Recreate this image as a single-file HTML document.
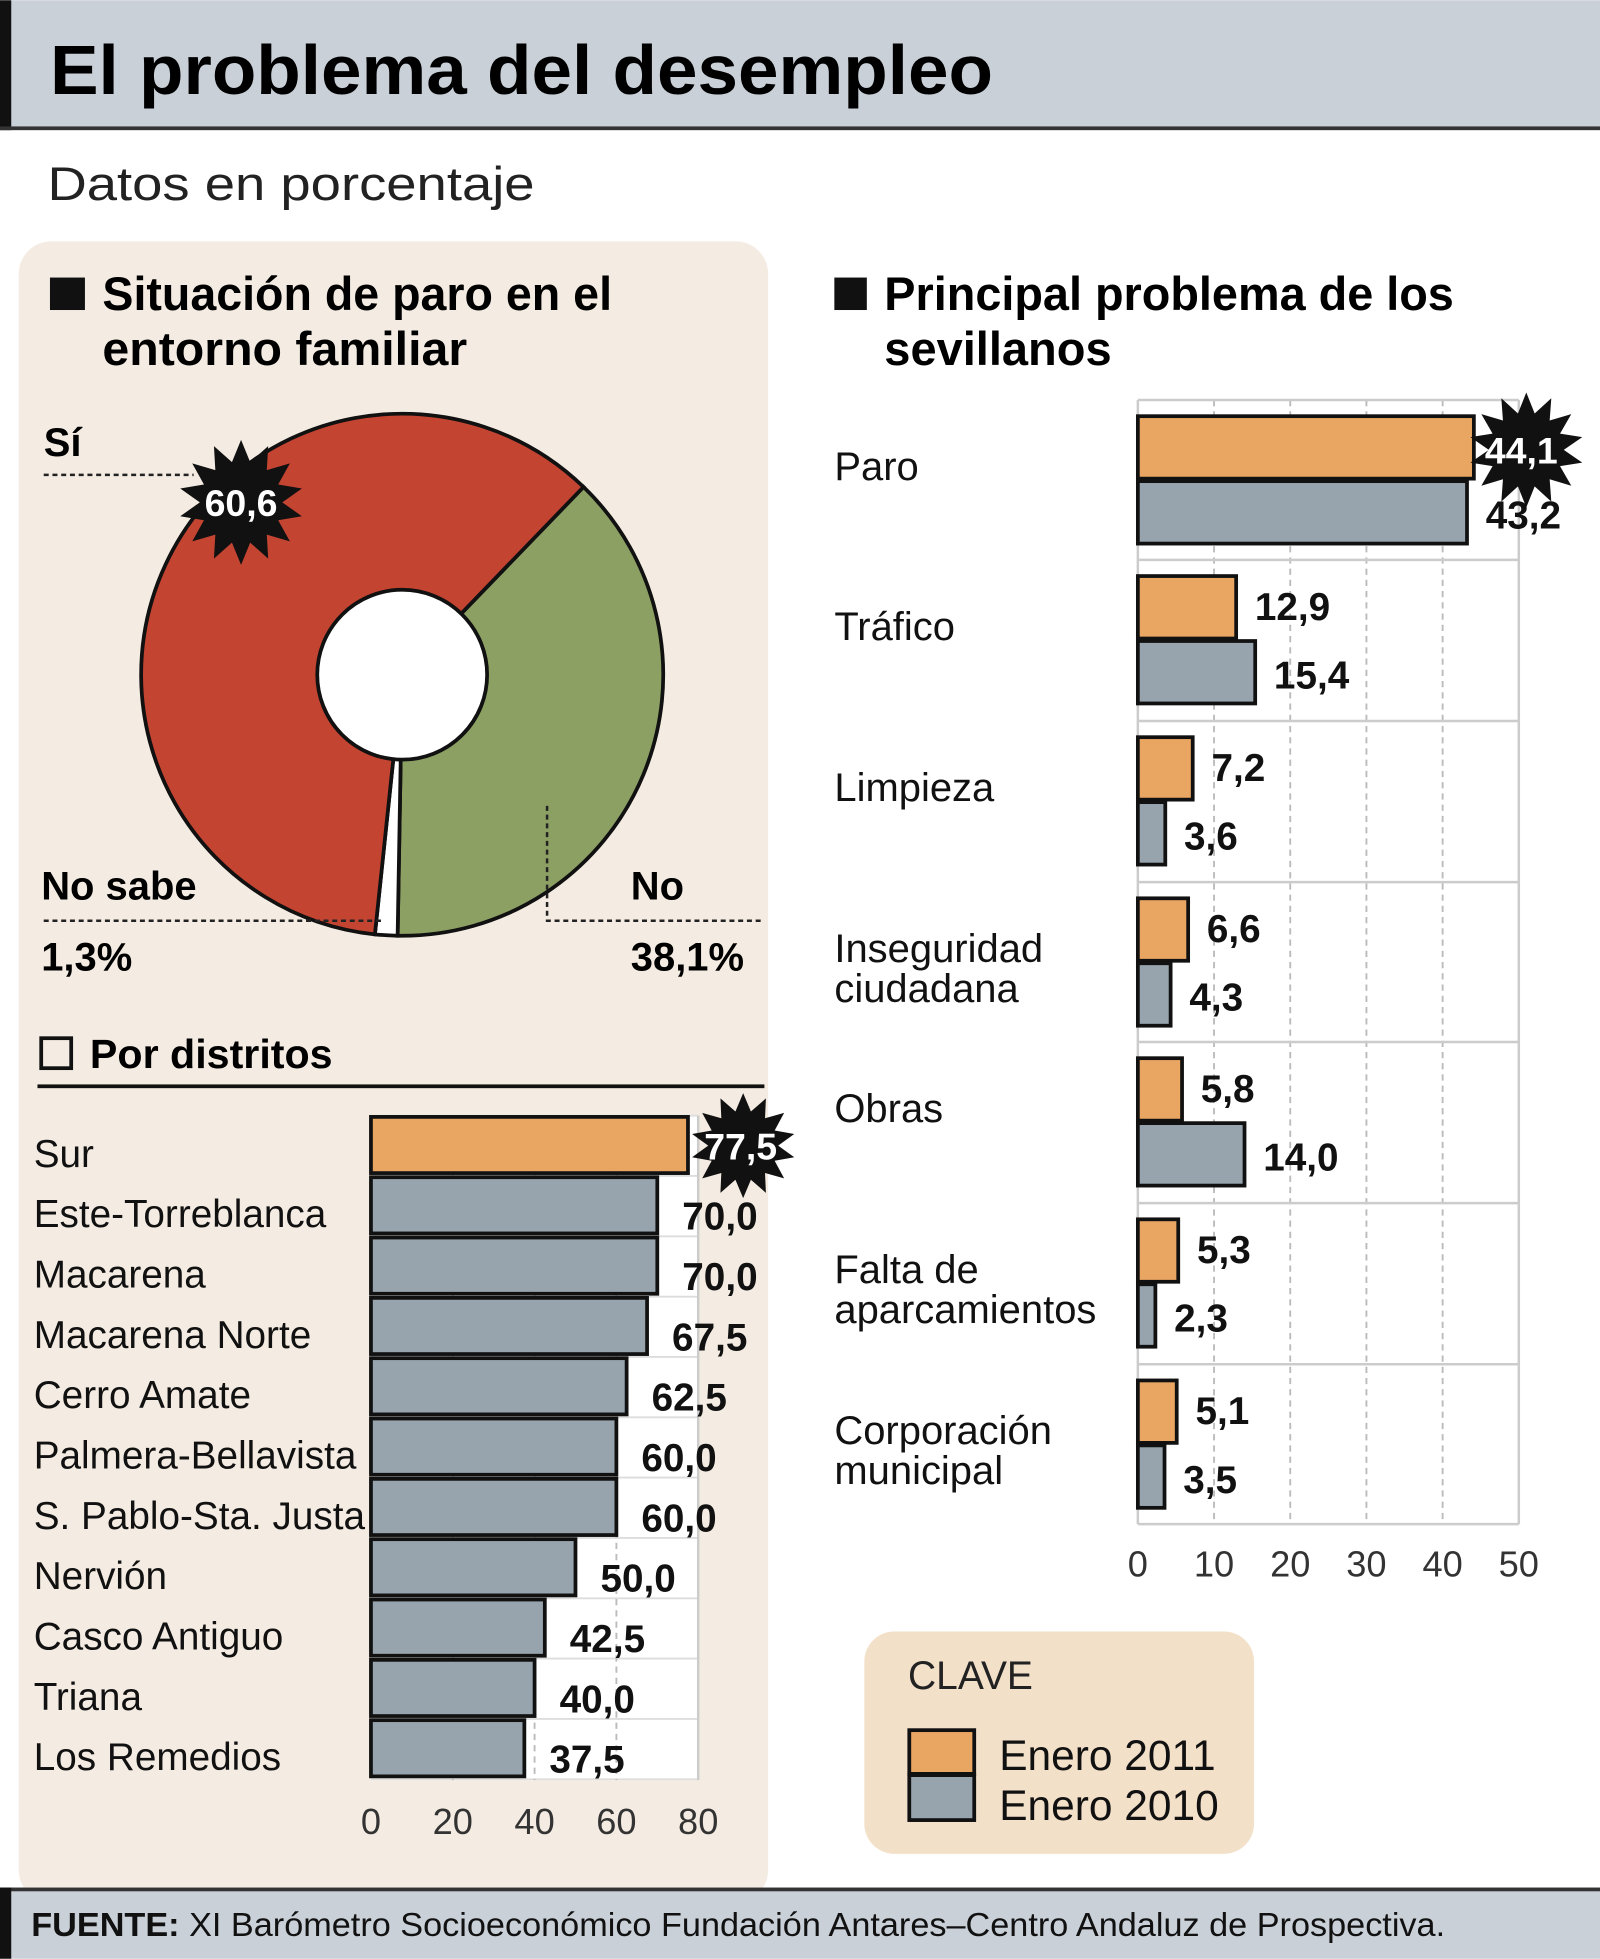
<!DOCTYPE html>
<html><head><meta charset="utf-8"><style>
html,body{margin:0;padding:0;background:#fff}
svg{display:block}
text{font-family:"Liberation Sans Narrow","Liberation Sans",sans-serif}
.b{font-weight:bold}
</style></head><body>
<svg width="1600" height="1959" viewBox="0 0 1281 1568" xmlns="http://www.w3.org/2000/svg">
<rect width="1281" height="1568" fill="#fff"/>
<rect x="0" y="0" width="1281" height="102" fill="#c9d0d8"/>
<rect x="0" y="0" width="9" height="104" fill="#111"/>
<rect x="0" y="101" width="1281" height="3" fill="#333"/>
<text x="40" y="75" font-size="56" class="b" textLength="755" lengthAdjust="spacingAndGlyphs">El problema del desempleo</text>
<text x="38" y="160" font-size="38" fill="#222" textLength="390" lengthAdjust="spacingAndGlyphs" style="font-family:'Liberation Sans',sans-serif">Datos en porcentaje</text>

<rect x="15" y="193" width="600" height="1330" rx="26" fill="#f4ece2"/>
<rect x="40" y="222" width="28" height="26" fill="#111"/>
<text x="82" y="248" font-size="38" class="b" textLength="408" lengthAdjust="spacingAndGlyphs">Situación de paro en el</text>
<text x="82" y="292" font-size="38" class="b" textLength="292" lengthAdjust="spacingAndGlyphs">entorno familiar</text>

<g id="donut" stroke="#111" stroke-width="3"></g>
<circle cx="322" cy="540" r="68" fill="#fff" stroke="#111" stroke-width="3"/>
<line x1="35" y1="380" x2="155" y2="380" stroke="#222" stroke-width="2" stroke-dasharray="4,3"/>
<text x="35" y="365" font-size="32" class="b">Sí</text>
<polygon id="s1" fill="#111"/>
<text x="193" y="413" font-size="30" class="b" fill="#fff" text-anchor="middle">60,6</text>
<line x1="35" y1="737" x2="305" y2="737" stroke="#222" stroke-width="2" stroke-dasharray="4,3"/>
<polyline points="438,645 438,737 610,737" fill="none" stroke="#222" stroke-width="2" stroke-dasharray="4,3"/>
<text x="33" y="720" font-size="32" class="b">No sabe</text>
<text x="33" y="777" font-size="32" class="b">1,3%</text>
<text x="505" y="720" font-size="32" class="b">No</text>
<text x="505" y="777" font-size="32" class="b">38,1%</text>

<rect x="33" y="831" width="24" height="24" fill="none" stroke="#111" stroke-width="3"/>
<text x="72" y="855" font-size="33" class="b">Por distritos</text>
<rect x="30" y="868" width="582" height="3" fill="#111"/>
<rect x="297" y="893" width="262" height="532" fill="#fff"/>
<g id="dist"></g>
<polygon id="s2" fill="#111"/>
<text x="593" y="928" font-size="30" class="b" fill="#fff" text-anchor="middle">77,5</text>

<rect x="668" y="222" width="26" height="26" fill="#111"/>
<text x="708" y="248" font-size="38" class="b" textLength="456" lengthAdjust="spacingAndGlyphs">Principal problema de los</text>
<text x="708" y="292" font-size="38" class="b" textLength="182" lengthAdjust="spacingAndGlyphs">sevillanos</text>
<g id="prob"></g>
<polygon id="s3" fill="#111"/>
<text x="1218" y="371" font-size="30" class="b" fill="#fff" text-anchor="middle">44,1</text>

<rect x="692" y="1306" width="312" height="178" rx="24" fill="#f3e0c9"/>
<text x="727" y="1352" font-size="32" fill="#222" style="font-family:'Liberation Sans',sans-serif" textLength="100" lengthAdjust="spacingAndGlyphs">CLAVE</text>
<rect x="728" y="1385" width="52" height="35" fill="#e9a562" stroke="#111" stroke-width="3"/>
<rect x="728" y="1421" width="52" height="36" fill="#97a4ae" stroke="#111" stroke-width="3"/>
<text x="800" y="1417" font-size="34" fill="#111">Enero 2011</text>
<text x="800" y="1457" font-size="34" fill="#111">Enero 2010</text>

<rect x="0" y="1512" width="1281" height="56" fill="#c9d0d8"/>
<rect x="0" y="1511" width="1281" height="3" fill="#333"/>
<rect x="0" y="1511" width="9" height="57" fill="#111"/>
<text x="25" y="1550" font-size="27" fill="#111" textLength="1132" lengthAdjust="spacingAndGlyphs"><tspan class="b">FUENTE:</tspan> XI Barómetro Socioeconómico Fundación Antares–Centro Andaluz de Prospectiva.</text>
</svg>
<script>
var NS="http://www.w3.org/2000/svg";
function el(p,t,a,txt){var e=document.createElementNS(NS,t);for(var k in a)e.setAttribute(k,a[k]);if(txt!=null)e.textContent=txt;p.appendChild(e);return e;}
var cx=322,cy=540,R=209;
function pt(a,r){var t=a*Math.PI/180;return [cx+r*Math.sin(t),cy-r*Math.cos(t)];}
function arc(a0,a1,fill){var p0=pt(a0,R),p1=pt(a1,R);var lg=(a1-a0)>180?1:0;
el(document.getElementById('donut'),'path',{d:'M'+cx+','+cy+' L'+p0+' A'+R+','+R+' 0 '+lg+' 1 '+p1+' Z',fill:fill});}
arc(44,181,'#8da064');arc(181,186,'#fff');arc(186,404,'#c44432');
function star(id,x,y,ro,ri,n){var s=[];for(var i=0;i<2*n;i++){var r=i%2?ri:ro;var a=i*Math.PI/n;s.push((x+r*Math.sin(a)).toFixed(1)+','+(y-r*Math.cos(a)).toFixed(1));}document.getElementById(id).setAttribute('points',s.join(' '));}
star('s1',193,402,50,33,14);star('s2',595,917,42,28,14);star('s3',1222,360,46,30,14);
var g=document.getElementById('dist');
var names=['Sur','Este-Torreblanca','Macarena','Macarena Norte','Cerro Amate','Palmera-Bellavista','S. Pablo-Sta. Justa','Nervión','Casco Antiguo','Triana','Los Remedios'];
var vals=[77.5,70,70,67.5,62.5,60,60,50,42.5,40,37.5];
var x0=297,sc=262/80;
for(var i=0;i<=11;i++){el(g,'line',{x1:x0,x2:559,y1:893+i*48.3,y2:893+i*48.3,stroke:'#ddd','stroke-width':1.5});}
[20,40,60].forEach(function(v){el(g,'line',{x1:x0+v*sc,x2:x0+v*sc,y1:893,y2:1425,stroke:'#bbb','stroke-width':1.5,'stroke-dasharray':'5,4'});});
el(g,'line',{x1:559,x2:559,y1:893,y2:1425,stroke:'#ccc','stroke-width':2});
for(var i=0;i<11;i++){var y=893+i*48.3;
el(g,'rect',{x:x0,y:y+1,width:vals[i]*sc,height:45,fill:i==0?'#e9a562':'#97a4ae',stroke:'#111','stroke-width':3});
el(g,'text',{x:27,y:y+41,'font-size':31,fill:'#111'},names[i]);
if(i>0)el(g,'text',{x:x0+vals[i]*sc+20,y:y+43,'font-size':31,'font-weight':'bold',fill:'#111'},vals[i].toFixed(1).replace('.',','));}
[0,20,40,60,80].forEach(function(v){el(g,'text',{x:x0+v*sc,y:1468,'font-size':29,fill:'#333','text-anchor':'middle'},v);});
var p=document.getElementById('prob');
var X0=911,S=305/50;
var gy=[320,448,577,706,834,963,1092,1220];
[10,20,30,40].forEach(function(v){el(p,'line',{x1:X0+v*S,x2:X0+v*S,y1:320,y2:1220,stroke:'#bbb','stroke-width':1.5,'stroke-dasharray':'5,4'});});
el(p,'line',{x1:1216,x2:1216,y1:320,y2:1220,stroke:'#ccc','stroke-width':2});
el(p,'line',{x1:X0,x2:X0,y1:320,y2:1220,stroke:'#ccc','stroke-width':2});
gy.forEach(function(y){el(p,'line',{x1:X0,x2:1216,y1:y,y2:y,stroke:'#ccc','stroke-width':2});});
var labs=[['Paro'],['Tráfico'],['Limpieza'],['Inseguridad','ciudadana'],['Obras'],['Falta de','aparcamientos'],['Corporación','municipal']];
var o=[44.1,12.9,7.2,6.6,5.8,5.3,5.1],gr=[43.2,15.4,3.6,4.3,14.0,2.3,3.5];
for(var i=0;i<7;i++){var y=gy[i]+13;var mid=y+51;
el(p,'rect',{x:X0,y:y,width:o[i]*S,height:50,fill:'#e9a562',stroke:'#111','stroke-width':3});
el(p,'rect',{x:X0,y:y+52,width:gr[i]*S,height:50,fill:'#97a4ae',stroke:'#111','stroke-width':3});
if(labs[i].length==1)el(p,'text',{x:668,y:mid,'font-size':32,fill:'#111'},labs[i][0]);
else{el(p,'text',{x:668,y:mid,'font-size':32,fill:'#111'},labs[i][0]);el(p,'text',{x:668,y:mid+32,'font-size':32,fill:'#111'},labs[i][1]);}
if(i>0)el(p,'text',{x:X0+o[i]*S+15,y:y+35,'font-size':31,'font-weight':'bold',fill:'#111'},o[i].toFixed(1).replace('.',','));
el(p,'text',{x:X0+gr[i]*S+15,y:y+90,'font-size':31,'font-weight':'bold',fill:'#111'},gr[i].toFixed(1).replace('.',','));}
[0,10,20,30,40,50].forEach(function(v){el(p,'text',{x:X0+v*S,y:1262,'font-size':29,fill:'#333','text-anchor':'middle'},v);});
</script>
</body></html>
